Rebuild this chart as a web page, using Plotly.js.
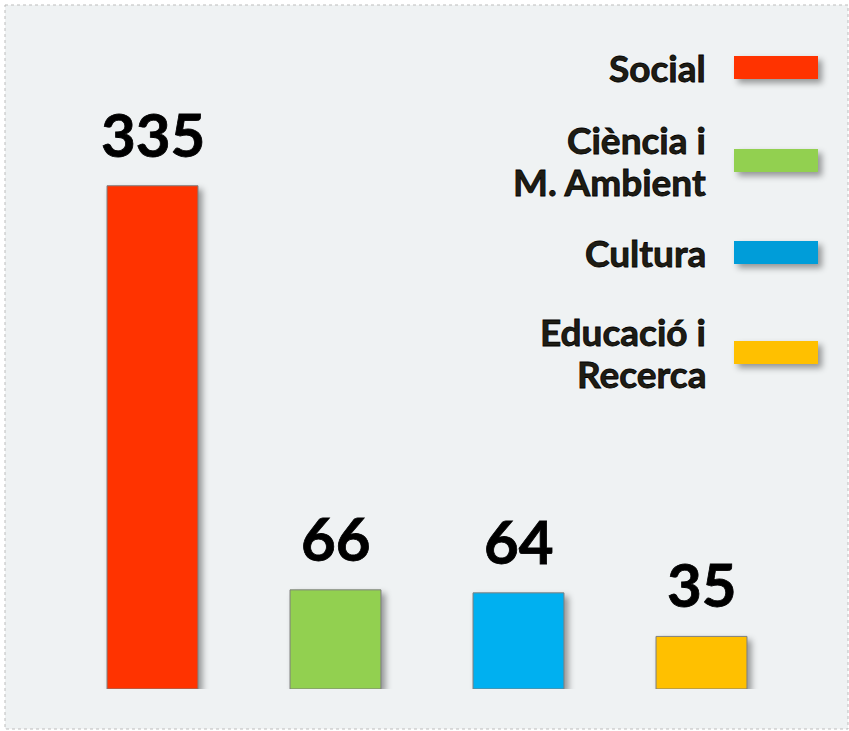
<!DOCTYPE html>
<html>
<head>
<meta charset="utf-8">
<script src="https://cdn.plot.ly/plotly-3.0.1.min.js"></script>
<style>
  html, body { margin: 0; padding: 0; background: #ffffff; }
  #chart { width: 849px; height: 731px; }
  /* soft shadows like the office chart */
  #chart .bars .point path { filter: drop-shadow(4px 4px 3px rgba(0,0,0,0.38)); }
  #chart .layer-above .shapelayer path { filter: drop-shadow(4px 4px 3px rgba(0,0,0,0.38)); }
  /* heavier text, closer to the original bold face */
  #chart .annotation-text { stroke: currentColor; stroke-width: 0.8px; }
</style>
</head>
<body>
<div id="chart"></div>
<script>
// Data
const categories = ['Social', 'Ciència i M. Ambient', 'Cultura', 'Educació i Recerca'];
const values = [335, 66, 64, 35];
const barColors = ['#ff3300', '#92d050', '#00b0f0', '#ffc000'];
const legendColors = ['#ff3300', '#92d050', '#009dd9', '#ffc000'];
const legendLines = [['Social'], ['Ciència i', 'M. Ambient'], ['Cultura'], ['Educació i', 'Recerca']];

// Layout constants (pixels)
const W = 849, H = 731;
const M = { l: 61, r: 56, t: 28, b: 42 };
const plotW = W - M.l - M.r, plotH = H - M.t - M.b;
const legendRowY = [67.5, 160.5, 252.5, 352.5];
const swatchX0 = 734, swatchX1 = 818, swatchH = 23;
const textRight = 708, lineGap = 41.5;

const px = x => (x - M.l) / plotW;
const py = y => (H - M.b - y) / plotH;

const FONT = 'Lato, "Open Sans", sans-serif';

const traces = [{
  type: 'bar',
  x: categories,
  y: values,
  width: 0.497,
  marker: { color: barColors, line: { color: '#7f7f7f', width: 1 } },
  hoverinfo: 'skip',
  showlegend: false
}];

// value labels above bars
const annotations = values.map((v, i) => ({
  x: categories[i], y: v, xref: 'x', yref: 'y',
  text: '<b>' + v + '</b>',
  showarrow: false, xanchor: 'center', yanchor: 'bottom', yshift: 14,
  font: { family: FONT, size: 60, color: '#000000' }
}));

// custom legend: text on the left, swatch on the right
const shapes = [{
  type: 'rect', xref: 'paper', yref: 'paper', layer: 'below',
  x0: px(5), x1: px(848), y0: py(5), y1: py(729),
  fillcolor: '#eff2f3', line: { color: '#bdbdbd', width: 1, dash: 'dot' }
}];

legendLines.forEach((lines, i) => {
  const cy = legendRowY[i];
  shapes.push({
    type: 'rect', xref: 'paper', yref: 'paper', layer: 'above',
    x0: px(swatchX0), x1: px(swatchX1),
    y0: py(cy + swatchH / 2), y1: py(cy - swatchH / 2),
    fillcolor: legendColors[i], line: { width: 0 }
  });
  lines.forEach((ln, j) => {
    const off = (j - (lines.length - 1) / 2) * lineGap;
    annotations.push({
      x: px(textRight), y: py(cy + off), xref: 'paper', yref: 'paper',
      text: '<b>' + ln + '</b>', showarrow: false,
      xanchor: 'right', yanchor: 'middle',
      font: { family: FONT, size: 37, color: '#1f1d14' }
    });
  });
});

const layout = {
  width: W, height: H,
  margin: M,
  paper_bgcolor: '#ffffff',
  plot_bgcolor: 'rgba(0,0,0,0)',
  xaxis: { type: 'category', range: [-0.5, 3.5], showticklabels: false, showgrid: false, zeroline: false, showline: false, ticks: '' },
  yaxis: { range: [0, 440], showticklabels: false, showgrid: false, zeroline: false, showline: false, ticks: '' },
  bargap: 0.5,
  shapes: shapes,
  annotations: annotations,
  showlegend: false
};

Plotly.newPlot('chart', traces, layout, { displayModeBar: false, staticPlot: true });
</script>
</body>
</html>
